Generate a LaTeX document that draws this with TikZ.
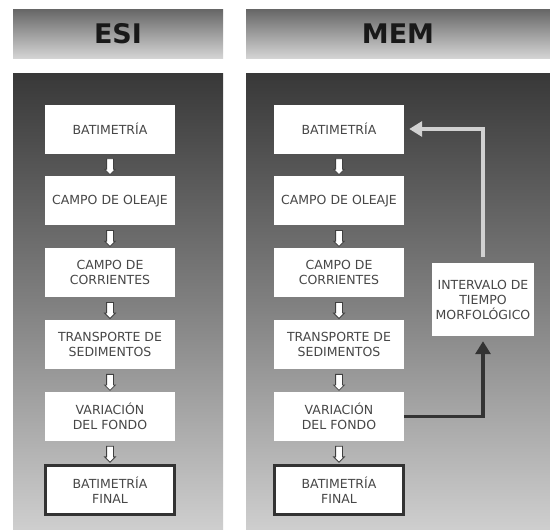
\documentclass[tikz,border=0pt]{standalone}
\usepackage{fontspec}
\setmainfont{DejaVu Sans}
\usepackage{xcolor}
\usepackage{tikz}
\usetikzlibrary{arrows.meta,positioning,calc,shapes.arrows}

\begin{document}
\begin{tikzpicture}[x=1pt,y=1pt,
    head/.style={top color=black!60,bottom color=black!17,minimum height=49pt,
                 font=\fontsize{27}{30}\selectfont\bfseries,text=black!90,inner sep=0pt},
    panel/.style={top color=black!78,bottom color=black!19,middle color=black!50,
                  minimum height=457pt,inner sep=0pt},
    box/.style={fill=white,align=center,font=\fontsize{12.5}{15}\selectfont,text=black!72,
                minimum width=130pt,minimum height=49pt,inner sep=2pt},
    endbox/.style={box,draw=black!80,line width=3pt,minimum width=129pt},
    flow/.style={single arrow,shape border rotate=270,draw=black!75,fill=white,line width=0.8pt,
                 minimum height=16pt,minimum width=10pt,inner sep=3pt,single arrow head extend=2pt},
    arrow/.style={-{Triangle[length=13pt,width=15pt]},line width=3.5pt,shorten >=5pt},
    node distance=22.5pt]
  \useasboundingbox[fill=white] (0,0) rectangle (550,-530);
  % headers and panels
  \node[head,minimum width=210pt] (esih) at (118,-33.5) {ESI};
  \node[head,minimum width=304pt] (memh) at (398,-33.5) {MEM};
  \node[panel,minimum width=210pt] (esip) at (118,-301.5) {};
  \node[panel,minimum width=304pt] (memp) at (398,-301.5) {};
  % ESI
  \node[box] (ebat) at (110,-129) {BATIMETRÍA};
  \node[box,below=of ebat] (eole) {CAMPO DE OLEAJE};
  \node[box,below=of eole] (ecor) {CAMPO DE\\CORRIENTES};
  \node[box,below=of ecor] (etra) {TRANSPORTE DE\\SEDIMENTOS};
  \node[box,below=of etra] (evar) {VARIACIÓN\\DEL FONDO};
  \node[endbox,below=of evar] (efin) {BATIMETRÍA\\FINAL};
  % MEM
  \node[box] (mbat) at (339,-129) {BATIMETRÍA};
  \node[box,below=of mbat] (mole) {CAMPO DE OLEAJE};
  \node[box,below=of mole] (mcor) {CAMPO DE\\CORRIENTES};
  \node[box,below=of mcor] (mtra) {TRANSPORTE DE\\SEDIMENTOS};
  \node[box,below=of mtra] (mvar) {VARIACIÓN\\DEL FONDO};
  \node[endbox,below=of mvar] (mfin) {BATIMETRÍA\\FINAL};
  \node[box,minimum width=102pt,minimum height=73pt] (mint) at (483,-299.5)
       {INTERVALO DE\\TIEMPO\\MORFOLÓGICO};
  \foreach \a/\b in {ebat/eole,eole/ecor,ecor/etra,etra/evar,evar/efin,
                     mbat/mole,mole/mcor,mcor/mtra,mtra/mvar,mvar/mfin}
    \node[flow] (f-\a) at ($(\a.south)!0.5!(\b.north)$) {};
  \draw[arrow,draw=black!80] (mvar.east) -| (mint.south);
  \draw[arrow,draw=black!18,shorten <=6pt] (mint.north) |- (mbat.east);
\end{tikzpicture}
\end{document}
